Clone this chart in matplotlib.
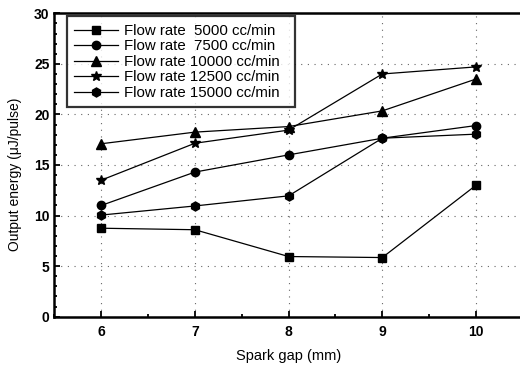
"""Output energy vs spark gap for several flow rates."""
import matplotlib
matplotlib.use("Agg")
import matplotlib.pyplot as plt
from matplotlib.ticker import MultipleLocator

plt.rcParams['font.family'] = ['Liberation Sans', 'DejaVu Sans']

# data
spark_gap = [6, 7, 8, 9, 10]
flow_labels = ["Flow rate  5000 cc/min", "Flow rate  7500 cc/min",
               "Flow rate 10000 cc/min", "Flow rate 12500 cc/min",
               "Flow rate 15000 cc/min"]
energy_5000 = [8.75, 8.6, 5.95, 5.85, 13.0]
energy_7500 = [11.0, 14.3, 16.0, 17.65, 18.9]
energy_10000 = [17.1, 18.25, 18.8, 20.35, 23.5]
energy_12500 = [13.5, 17.15, 18.45, 24.0, 24.7]
energy_15000 = [10.05, 10.95, 11.95, 17.65, 18.05]
markers = ['s', 'o', '^', '*', 'h']
marker_sizes = [5.5, 6, 6.5, 7.5, 6.5]

fig = plt.figure(figsize=(5.2, 3.65), dpi=100)
ax = fig.add_axes([0.1045, 0.1323, 0.901, 0.8313])

series = [energy_5000, energy_7500, energy_10000, energy_12500, energy_15000]
for vals, lab, m, ms in zip(series, flow_labels, markers, marker_sizes):
    ax.plot(spark_gap, vals, color='black', lw=0.9, marker=m, ms=ms,
            label=lab + '  ')

ax.set_xlim(5.5, 10.5)
ax.set_ylim(0, 30)
ax.xaxis.set_major_locator(MultipleLocator(1))
ax.xaxis.set_minor_locator(MultipleLocator(0.5))
ax.yaxis.set_major_locator(MultipleLocator(5))
ax.yaxis.set_minor_locator(MultipleLocator(1))
ax.tick_params(which='both', direction='in', width=1.3)
ax.tick_params(which='major', length=4, labelsize=10)
ax.tick_params(axis='x', which='major', pad=6)
ax.tick_params(axis='y', which='major', pad=3.5)
ax.tick_params(which='minor', length=2.5)
for t in ax.get_xticklabels() + ax.get_yticklabels():
    t.set_fontweight('bold')

# sparse dotted grid like the scanned original
ax.grid(True, which='major', linestyle=(0, (1, 5)), color='#666666', lw=0.8)
ax.set_axisbelow(True)

for side in ['left', 'bottom', 'top']:
    ax.spines[side].set_linewidth(1.8)
ax.spines['right'].set_visible(False)

ax.set_xlabel('Spark gap (mm)', fontsize=10.5, labelpad=7)
ax.set_ylabel('Output energy (\u03bcJ/pulse)', fontsize=10)
ax.yaxis.set_label_coords(-0.068, 0.47)

leg = ax.legend(loc='upper left', bbox_to_anchor=(0.027, 0.99), fontsize=10.8,
                frameon=True, fancybox=False, edgecolor='black',
                borderpad=0.5, labelspacing=0.1, handlelength=2.9,
                handletextpad=0.4, borderaxespad=0.0)
leg.get_frame().set_linewidth(1.6)

fig.savefig('out.png', dpi=100)
